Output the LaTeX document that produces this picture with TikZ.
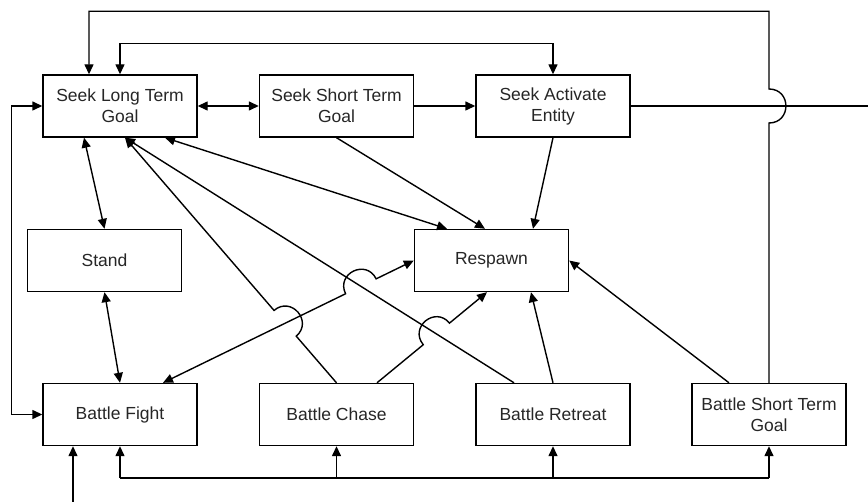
\documentclass[tikz,border=0pt]{standalone}
\usepackage{fontspec}
\setmainfont{Liberation Sans}
\usetikzlibrary{positioning,calc,arrows.meta}
\tikzset{
  state/.style={draw,line width=0.7pt,minimum width=77pt,minimum height=31pt,
    inner sep=1pt,align=center,text=black!85,font=\fontsize{8.75}{10.5}\selectfont},
  link/.style={draw,line width=0.7pt,->},
  both/.style={draw,line width=0.7pt,<->},
  wire/.style={draw,line width=0.7pt},
  hopl/.style={bend left=90,looseness=1.7},
  hopr/.style={bend right=90,looseness=1.7},
}

\begin{document}
\begin{tikzpicture}[x=0.5pt,y=-0.5pt,>={Triangle[length=5pt,width=4.5pt]}]
\useasboundingbox (0,0) rectangle (868,502);
% seek row
\node[state] (sltg) at (120,106) {Seek Long Term\\Goal};
\node[state] (sstg) at (336.5,106) {Seek Short Term\\Goal};
\node[state] (sae) at (553,106) {Seek Activate\\Entity};
% middle row
\node[state] (stand) at (104.5,260.5) {Stand};
\node[state] (respawn) at (491.5,260.5) {Respawn};
% battle row
\node[state] (bfight) at (120,414.5) {Battle Fight};
\node[state] (bchase) at (336.5,414.5) {Battle Chase};
\node[state] (bretreat) at (553,414.5) {Battle Retreat};
\node[state] (bstg) at (769,414.5) {Battle Short Term\\Goal};

% free ends and bus
\coordinate (exit) at (868,106);
\coordinate (entry) at (73,502);
\coordinate (bus) at (0,478);
\coordinate (topL) at ($(sltg.north)+(-31,-63)$);

% end points on the boxes
\coordinate (goalL) at ($(sltg.south)+(5,0)$);
\coordinate (goalR) at ($(sltg.south)+(45,0)$);
\coordinate (standIn) at ($(sltg.south)+(-36,0)$);
\coordinate (chaseR) at ($(bchase.north)+(40.5,0)$);
\coordinate (retreatL) at ($(bretreat.north)+(-39,0)$);
\coordinate (fightR) at ($(bfight.north)+(43,0)$);
\coordinate (spawnA) at ($(respawn.north)+(-44.5,0)$);
\coordinate (spawnB) at ($(respawn.north)+(-6.5,0)$);
\coordinate (spawnC) at ($(respawn.north)+(41.5,0)$);
\coordinate (spawnD) at ($(respawn.south)+(-4.5,0)$);
\coordinate (spawnE) at ($(respawn.south)+(39.5,0)$);
\coordinate (stgL) at ($(bstg.north)+(-40,0)$);

% crossings with a jump
\coordinate (xA) at (intersection of bchase.north--goalL and fightR--respawn.west);
\coordinate (xD) at (intersection of fightR--respawn.west and retreatL--goalL);
\coordinate (xE) at (intersection of chaseR--spawnD and retreatL--goalL);
\coordinate (xT) at (bstg.north |- sae.east);

% seek row links
\draw[both] (sltg) -- (sstg);
\draw[link] (sstg) -- (sae);
\draw[both] (sltg.north) -- ++(0,-31) -| (sae.north);
\draw[wire] (sae.east) -- (exit);
\draw[link] (bstg.north) -- ($(xT)+(0,17)$) to[hopr] ($(xT)+(0,-17)$)
  -- (bstg.north |- topL) -- (topL) -- ($(sltg.north)+(-31,0)$);

% left side
\draw[both] (sltg.west) -- ++(-31,0) |- (bfight.west);
\draw[link] (entry) -- (entry |- bfight.south);
\draw[both] (standIn) -- (stand.north);
\draw[both] (stand.south) -- (bfight.north);

% bus under the battle row
\draw[wire] (bfight.south |- bus) -- (bstg.south |- bus);
\foreach \s in {bfight,bchase,bretreat,bstg}
  \draw[link] (\s.south |- bus) -- (\s.south);

% diagonals
\draw[link] (bchase.north) -- ($(xA)!8.5pt!(bchase.north)$) to[hopr] ($(xA)!8.5pt!(goalL)$) -- (goalL);
\draw[link] (retreatL) -- (goalL);
\draw[both] (goalR) -- (spawnA);
\draw[link] (sstg.south) -- (spawnB);
\draw[link] (sae.south) -- (spawnC);
\draw[both] (fightR) -- ($(xD)!8.5pt!(fightR)$) to[hopl] ($(xD)!8.5pt!(respawn.west)$) -- (respawn.west);
\draw[link] (chaseR) -- ($(xE)!8.5pt!(chaseR)$) to[hopl] ($(xE)!8.5pt!(spawnD)$) -- (spawnD);
\draw[link] (bretreat.north) -- (spawnE);
\draw[link] (stgL) -- (respawn.east);
\end{tikzpicture}
\end{document}
